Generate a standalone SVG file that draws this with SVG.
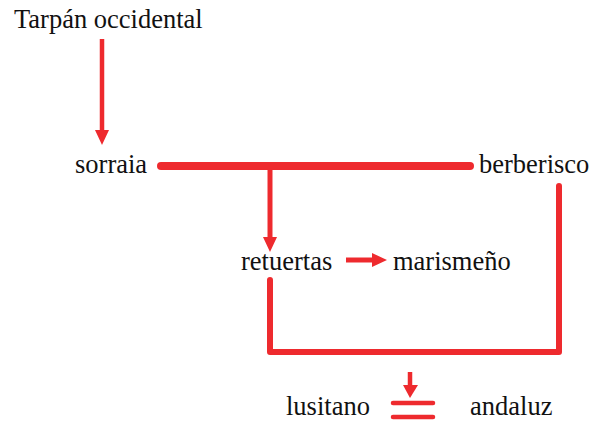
<svg xmlns="http://www.w3.org/2000/svg" width="591" height="421" viewBox="0 0 591 421">
<style>
.t{font-family:'Liberation Serif','DejaVu Serif','Times New Roman',serif;font-size:26.5px;fill:#111}
.c{stroke:#ee2a2e;fill:none}
.h{fill:#ee2a2e}
</style>
<rect width="591" height="421" fill="#fff"/>
<g id="connectors">
<line class="c" x1="102" y1="39" x2="102" y2="132" stroke-width="4.5"/>
<polygon class="h" points="95,130 109,130 102,145"/>
<line class="c" x1="161" y1="166" x2="470" y2="166" stroke-width="8" stroke-linecap="round"/>
<line class="c" x1="270" y1="166" x2="270" y2="240" stroke-width="5"/>
<polygon class="h" points="263,237 277,237 270,252"/>
<line class="c" x1="346" y1="260" x2="374" y2="260" stroke-width="5"/>
<polygon class="h" points="372,253 372,267 387,260"/>
<polyline class="c" points="270,280 270,352 559,352 559,186" stroke-width="6" stroke-linejoin="round" stroke-linecap="round"/>
<line class="c" x1="410" y1="372" x2="410" y2="387" stroke-width="4.5"/>
<polygon class="h" points="403,385 418,385 410,398"/>
<line class="c" x1="393" y1="403" x2="433" y2="403" stroke-width="4.5" stroke-linecap="round"/>
<line class="c" x1="393" y1="417" x2="433" y2="417" stroke-width="4.5" stroke-linecap="round"/>
</g>
<g id="tarpan"><text class="t" x="14" y="28" font-family="Liberation Serif, serif">Tarpán occidental</text></g>
<g id="sorraia"><text class="t" x="75" y="173" font-family="Liberation Serif, serif">sorraia</text></g>
<g id="berberisco"><text class="t" x="479" y="173" font-family="Liberation Serif, serif">berberisco</text></g>
<g id="retuertas"><text class="t" x="241" y="270" font-family="Liberation Serif, serif">retuertas</text></g>
<g id="marismeno"><text class="t" x="393" y="270" font-family="Liberation Serif, serif">marismeño</text></g>
<g id="lusitano"><text class="t" x="286" y="415" font-family="Liberation Serif, serif">lusitano</text></g>
<g id="andaluz"><text class="t" x="470" y="415" font-family="Liberation Serif, serif">andaluz</text></g>
</svg>
